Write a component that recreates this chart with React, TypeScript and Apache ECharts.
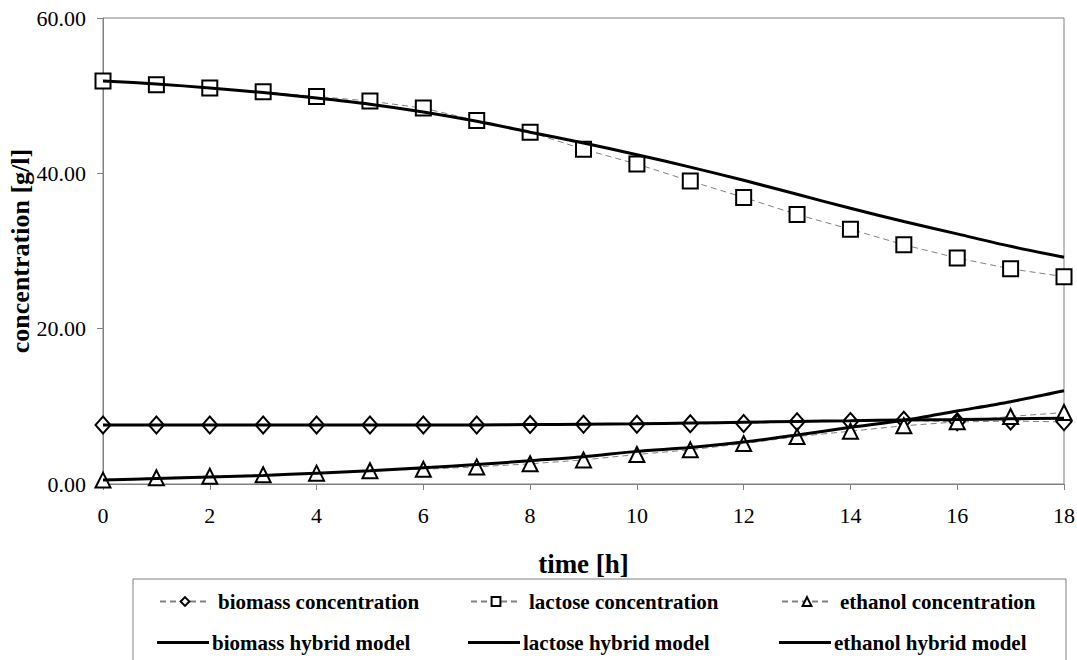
import React, { useEffect, useRef } from "react";
import * as echarts from "echarts";

const hours = [0, 1, 2, 3, 4, 5, 6, 7, 8, 9, 10, 11, 12, 13, 14, 15, 16, 17, 18];
const biomassData = [7.6, 7.6, 7.6, 7.6, 7.6, 7.6, 7.6, 7.6, 7.65, 7.7, 7.7, 7.75, 7.8, 8.0, 8.05, 8.2, 8.0, 8.1, 8.0];
const lactoseData = [51.9, 51.4, 51.0, 50.5, 49.9, 49.3, 48.4, 46.8, 45.3, 43.1, 41.2, 39.0, 36.9, 34.7, 32.8, 30.8, 29.1, 27.7, 26.7];
const ethanolData = [0.5, 0.8, 1.0, 1.2, 1.4, 1.7, 1.9, 2.2, 2.6, 3.1, 3.8, 4.4, 5.2, 6.1, 6.8, 7.5, 8.0, 8.7, 9.2];
const biomassModel = [7.6, 7.6, 7.6, 7.6, 7.6, 7.6, 7.6, 7.6, 7.65, 7.7, 7.75, 7.85, 7.95, 8.05, 8.15, 8.25, 8.3, 8.4, 8.45];
const lactoseModel = [51.9, 51.5, 51.0, 50.4, 49.7, 48.9, 47.9, 46.7, 45.3, 43.9, 42.4, 40.8, 39.1, 37.3, 35.5, 33.8, 32.2, 30.6, 29.2];
const ethanolModel = [0.5, 0.7, 0.9, 1.1, 1.4, 1.7, 2.1, 2.5, 3.0, 3.5, 4.2, 4.7, 5.4, 6.3, 7.3, 8.2, 9.4, 10.6, 12.0];

const seriesNames = [
  "biomass concentration",
  "lactose concentration",
  "ethanol concentration",
  "biomass hybrid model",
  "lactose hybrid model",
  "ethanol hybrid model",
];

const FONT = "Liberation Serif";

function pairs(vals: number[]) {
  return hours.map((h, i) => [h, vals[i]]);
}

export default function App() {
  const ref = useRef<HTMLDivElement>(null);
  useEffect(() => {
    if (!ref.current) return;
    const chart = echarts.init(ref.current, undefined, { renderer: "svg" });
    const dataSeries = (name: string, vals: number[], symbol: string, size: number | number[]) => ({
      name,
      type: "line",
      data: pairs(vals),
      symbol,
      symbolSize: size,
      showSymbol: true,
      z: 2,
      lineStyle: { color: "#808080", width: 1, type: [6, 4] },
      itemStyle: { color: "#ffffff", borderColor: "#000000", borderWidth: 2 },
    });
    const modelSeries = (name: string, vals: number[]) => ({
      name,
      type: "line",
      data: pairs(vals),
      symbol: "none",
      showSymbol: false,
      smooth: 0.3,
      z: 3,
      lineStyle: { color: "#000000", width: 3 },
      itemStyle: { color: "#000000" },
    });
    const legendPos = [
      { left: 159, top: 591 },
      { left: 470, top: 591 },
      { left: 781, top: 591 },
      { left: 157, top: 632 },
      { left: 468, top: 632 },
      { left: 779, top: 632 },
    ];
    const legendText = { fontFamily: FONT, fontSize: 21, fontWeight: "bold", color: "#000" };
    chart.setOption({
      animation: false,
      backgroundColor: "#ffffff",
      textStyle: { fontFamily: FONT },
      grid: {
        left: 103,
        top: 18,
        right: 13,
        bottom: 176,
        show: true,
        borderColor: "#808080",
        borderWidth: 1,
        containLabel: false,
        outerBoundsMode: "none",
      },
      xAxis: {
        type: "value",
        min: 0,
        max: 18,
        interval: 2,
        name: "time [h]",
        nameLocation: "middle",
        nameGap: 66,
        nameMoveOverlap: false,
        nameTextStyle: { fontFamily: FONT, fontSize: 27, fontWeight: "bold", color: "#000" },
        axisLine: { show: true, lineStyle: { color: "#808080", width: 1 } },
        axisTick: { show: true, inside: false, length: 6, lineStyle: { color: "#808080" } },
        axisLabel: { fontFamily: FONT, fontSize: 22, color: "#000", margin: 20, hideOverlap: false },
        splitLine: { show: false },
      },
      yAxis: {
        type: "value",
        min: 0,
        max: 60,
        interval: 20,
        name: "concentration [g/l]",
        nameLocation: "middle",
        nameGap: 70,
        nameMoveOverlap: false,
        nameRotate: 90,
        nameTextStyle: { fontFamily: FONT, fontSize: 26, fontWeight: "bold", color: "#000" },
        axisLine: { show: true, lineStyle: { color: "#808080", width: 1 } },
        axisTick: { show: true, inside: false, length: 6, lineStyle: { color: "#808080" } },
        axisLabel: {
          fontFamily: FONT,
          fontSize: 22,
          color: "#000",
          margin: 17,
          formatter: (v: number) => v.toFixed(2),
        },
        splitLine: { show: false },
      },
      legend: seriesNames.map((n, i) => {
        const isModel = i >= 3;
        return {
          data: [isModel ? { name: n, icon: "rect" } : { name: n }],
          left: legendPos[i].left,
          top: legendPos[i].top,
          itemWidth: isModel ? 52 : 50,
          itemHeight: isModel ? 3 : 11,
          itemGap: 0,
          padding: 0,
          selectedMode: false,
          textStyle: { ...legendText, padding: isModel ? [0, 0, 0, -2] : [0, 0, 0, 3] },
        };
      }),
      graphic: [
        {
          type: "rect",
          shape: { x: 133, y: 579, width: 933, height: 120 },
          style: { fill: "none", stroke: "#808080", lineWidth: 1 },
          silent: true,
        },
      ],
      series: [
        dataSeries(seriesNames[0], biomassData, "diamond", [15, 17]),
        dataSeries(seriesNames[1], lactoseData, "rect", 15),
        dataSeries(seriesNames[2], ethanolData, "triangle", 15),
        modelSeries(seriesNames[3], biomassModel),
        modelSeries(seriesNames[4], lactoseModel),
        modelSeries(seriesNames[5], ethanolModel),
      ],
    });
    return () => chart.dispose();
  }, []);
  return (
    <div
      ref={ref}
      style={{ position: "absolute", left: 0, top: 0, width: 1077, height: 660 }}
    />
  );
}
